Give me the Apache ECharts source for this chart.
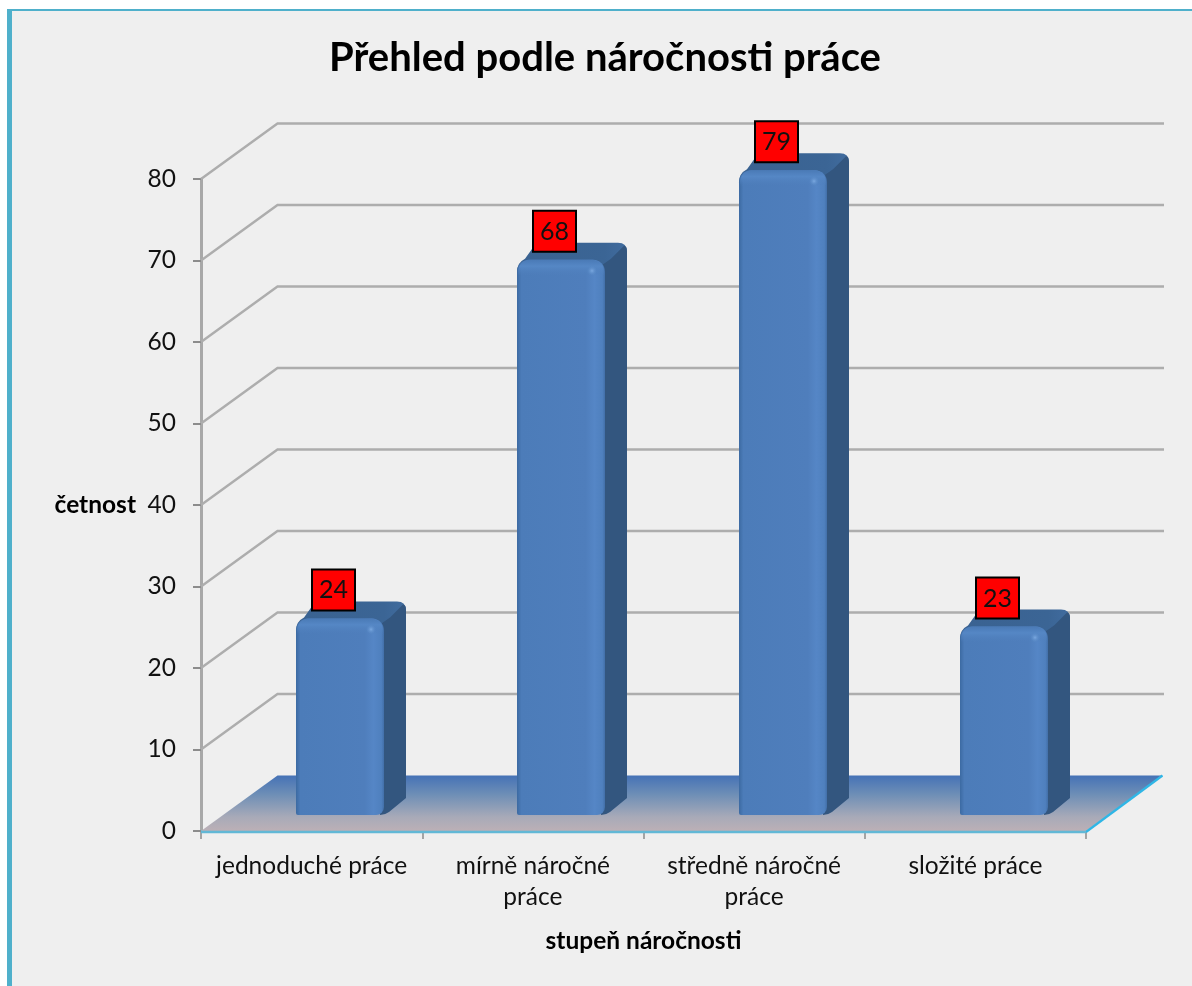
<!DOCTYPE html>
<html><head><meta charset="utf-8">
<style>html,body{margin:0;padding:0;background:#fff}#c{width:1192px;height:986px}</style>
<script src="https://cdn.jsdelivr.net/npm/echarts@6/dist/echarts.min.js"></script>
</head><body><div id="c"></div>
<script>
const chartTitle = 'Přehled podle náročnosti práce';
const categories = ['jednoduché práce', 'mírně náročné\npráce', 'středně náročné\npráce', 'složité práce'];
const values = [24, 68, 79, 23];
const wallTicks = [10, 20, 30, 40, 50, 60, 70, 80];
const xName = 'stupeň náročnosti';
const yName = 'četnost';
const FONT = 'Lato';
const DX = 76.5, DY = 55.5;

const chart = echarts.init(document.getElementById('c'), null, {renderer: 'canvas'});

function wall(params, api) {
  const r = params.coordSys;
  const y = api.coord([0, api.value(0)])[1];
  return {type: 'polyline', silent: true,
    shape: {points: [[r.x, y], [r.x + DX, y - DY], [r.x + r.width + DX + 1.5, y - DY]]},
    style: {stroke: '#adadad', lineWidth: 2.4, fill: null}};
}
function floor(params, api) {
  const r = params.coordSys, b = r.y + r.height;
  return {type: 'group', silent: true, children: [
    {type: 'polygon', shape: {points: [[r.x, b], [r.x + DX, b - DY], [r.x + r.width + DX, b - DY], [r.x + r.width, b]]},
     style: {fill: new echarts.graphic.LinearGradient(0, 0, 0, 1, [
       {offset: 0, color: '#4572b6'}, {offset: .35, color: '#6f8fb6'}, {offset: .75, color: '#a8aab8'}, {offset: 1, color: '#bcb0b6'}])}},
    {type: 'line', shape: {x1: r.x + r.width, y1: b + 1, x2: r.x + r.width + DX, y2: b - DY}, style: {stroke: '#2fb6e6', lineWidth: 2.2}},
    {type: 'line', shape: {x1: r.x, y1: b + 1, x2: r.x + r.width, y2: b + 1}, style: {stroke: '#62b8d6', lineWidth: 2.6}}
  ]};
}
function bar(params, api) {
  const c = api.coord([api.value(0), api.value(1)]);
  const base = api.coord([api.value(0), 0]);
  const w = 88, dx = 22, dy = 17, R = 12;
  const x0 = Math.round(c[0] + 28.5 - w / 2), x1 = x0 + w;
  const t = c[1] - 17, b = base[1] - 16;
  const silhouette = `M${x0} ${t + R} Q${x0} ${t + 3} ${x0 + 8} ${t - 1} L${x0 + dx - 4} ${t - dy + 2} Q${x0 + dx} ${t - dy} ${x0 + dx + 4} ${t - dy} L${x1 + dx - 9} ${t - dy} Q${x1 + dx} ${t - dy} ${x1 + dx} ${t - dy + 9} L${x1} ${t + 12} Z`;
  const sidePath = `M${x1 - 4} ${b} Q${x1 + 1} ${b} ${x1 + 5} ${b - 3} L${x1 + dx} ${b - dy} L${x1 + dx} ${t - dy + 9} Q${x1 + dx} ${t - dy + 3} ${x1 + dx - 3} ${t - dy + 3} L${x1 + 6} ${t - 1} L${x1 - 4} ${t + 6} Z`;
  const lx = x0 + w / 2 - 6.5, ly = t - 29;
  return {type: 'group', children: [
    {type: 'path', shape: {pathData: silhouette, layout: 'none'},
     style: {fill: new echarts.graphic.LinearGradient(0, 0, 1, 0, [
       {offset: 0, color: '#3a6291'}, {offset: .8, color: '#3b6595'}, {offset: 1, color: '#416c9f'}])}},
    {type: 'path', shape: {pathData: sidePath, layout: 'none'}, style: {fill: '#33567f'}},
    {type: 'rect', shape: {x: x0, y: t, width: w, height: b - t, r: [R, R, 8, 2]},
     style: {fill: new echarts.graphic.LinearGradient(0, 0, 1, 0, [
       {offset: 0, color: '#3c6aa2'}, {offset: .05, color: '#4c7cb9'}, {offset: .78, color: '#4f7ebc'},
       {offset: .88, color: '#5586c6'}, {offset: .97, color: '#4f80be'}, {offset: 1, color: '#426fa8'}])}},
    {type: 'rect', shape: {x: x0 + 1, y: t, width: w - 2, height: 16, r: [R, R, 0, 0]},
     style: {fill: new echarts.graphic.LinearGradient(0, 0, 0, 1, [
       {offset: 0, color: '#4a7ab6'}, {offset: .4, color: '#5587c5'}, {offset: 1, color: 'rgba(79,127,188,0)'}])}},
    {type: 'circle', shape: {cx: x1 - 13, cy: t + 11, r: 5},
     style: {fill: new echarts.graphic.RadialGradient(.5, .5, .5, [
       {offset: 0, color: '#7aa8e0'}, {offset: 1, color: 'rgba(90,140,200,0)'}])}},
    {type: 'rect', shape: {x: lx - 21.5, y: ly - 20, width: 43, height: 41},
     style: {fill: '#ff0000', stroke: '#000', lineWidth: 2}},
    {type: 'text', style: {x: lx, y: ly + 1, text: String(api.value(1)), fill: '#111', align: 'center', verticalAlign: 'middle',
      font: `25px ${FONT}`}}
  ]};
}

chart.setOption({
  animation: false,
  backgroundColor: '#ffffff',
  graphic: [
    {type: 'rect', z: -10, shape: {x: 7, y: 9, width: 1185, height: 977}, style: {fill: '#4fb0cb'}},
    {type: 'rect', z: -9, shape: {x: 12, y: 11, width: 1180, height: 975}, style: {fill: '#efefef'}}
  ],
  title: {text: chartTitle, left: 600, top: 33, textAlign: 'center',
    textStyle: {fontFamily: FONT, fontWeight: 'bold', fontSize: 40, color: '#000'}},
  grid: {left: 201, right: 106, top: 179, bottom: 155, containLabel: false},
  xAxis: {type: 'category', data: categories, boundaryGap: true,
    name: xName, nameLocation: 'middle', nameGap: 98,
    nameTextStyle: {fontFamily: FONT, fontWeight: 'bold', fontSize: 24.5, color: '#000'},
    axisLine: {onZero: false, lineStyle: {color: '#6fbcd6', width: 2}},
    axisTick: {show: true, length: 8, lineStyle: {color: '#8c8c8c', width: 1.5}},
    axisLabel: {color: '#111', fontFamily: FONT, fontSize: 24.5, lineHeight: 31, margin: 20, interval: 0},
    splitLine: {show: false}},
  yAxis: {type: 'value', min: 0, max: 80, interval: 10,
    name: yName, nameLocation: 'middle', nameRotate: 0, nameGap: 65,
    nameTextStyle: {fontFamily: FONT, fontWeight: 'bold', fontSize: 24.5, color: '#000', align: 'right', padding: [4, 0, 0, 0]},
    axisLine: {show: true, lineStyle: {color: '#a8a8a8', width: 3}},
    axisTick: {show: true, length: 8, lineStyle: {color: '#8c8c8c', width: 2}},
    axisLabel: {color: '#111', fontFamily: FONT, fontSize: 24.5, margin: 25, padding: [3, 0, 0, 0]},
    splitLine: {show: false}},
  series: [
    {type: 'custom', coordinateSystem: 'cartesian2d', z: 1, silent: true, renderItem: wall,
     data: wallTicks.map(v => [v]), encode: {y: 0}},
    {type: 'custom', coordinateSystem: 'cartesian2d', z: 2, silent: true, renderItem: floor,
     data: [[0, 0]], encode: {x: 0, y: 1}},
    {type: 'custom', coordinateSystem: 'cartesian2d', z: 3, renderItem: bar,
     data: values.map((v, i) => [i, v]), encode: {x: 0, y: 1}}
  ]
});
</script></body></html>
